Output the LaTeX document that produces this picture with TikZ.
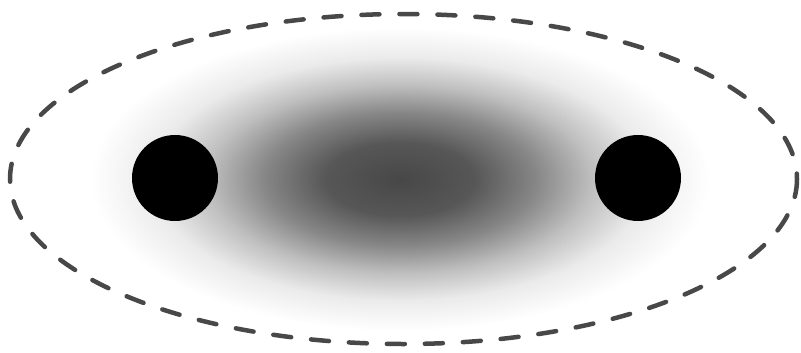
\documentclass[tikz,border=0pt]{standalone}
\usepackage{xcolor}
\usepackage{tikz}
\usetikzlibrary{positioning}
\definecolor{rimgray}{RGB}{72,72,72}
\pgfdeclareradialshading{cloud}{\pgfpoint{0bp}{0bp}}{%
  color(0bp)=(black!72); color(6bp)=(black!66); color(11bp)=(black!47);
  color(15.5bp)=(black!25); color(20bp)=(black!8); color(25bp)=(white);
  color(50bp)=(white)}

\begin{document}
\begin{tikzpicture}[x=0.02cm,y=-0.02cm,
    dot/.style={circle,fill=black,minimum size=1.72cm,inner sep=0pt},
    rim/.style={rimgray,line width=0.09cm,dash pattern=on 0.36cm off 0.4cm,line cap=round}]
  \useasboundingbox (0,0) rectangle (801,352);
  % diffuse cloud between the two dots
  \shade[shading=cloud] (400,179) ellipse (310 and 152);
  % dashed boundary
  \draw[rim] (403.5,179) ellipse (393.5 and 165);
  \node[dot] (left) at (175,178) {};
  \node[dot] (right) at (638,178) {};
\end{tikzpicture}
\end{document}
